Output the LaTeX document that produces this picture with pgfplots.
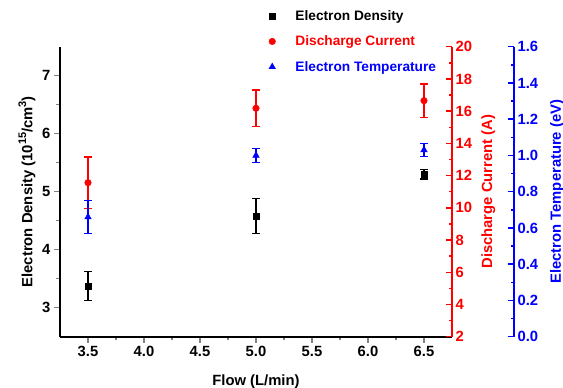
\documentclass[border=0pt]{standalone}
\usepackage{fontspec}
\setmainfont{Liberation Sans}
\usepackage{pgfplots}
\pgfplotsset{compat=1.18}
\newcommand{\sups}[1]{\raisebox{0.42em}{\fontsize{11}{11}\selectfont #1}}
\begin{document}
\begin{tikzpicture}
\pgfplotsset{
  myax/.style={
    scale only axis, width=392pt, height=290pt,
    xmin=3.25, xmax=6.75,
    /pgf/number format/assume math mode=true,
    tick label style={font=\bfseries\fontsize{14.8}{17}\selectfont},
    label style={font=\bfseries\fontsize{14.8}{17}\selectfont},
    axis line style={-, line width=1.6pt},
    major tick length=6pt, minor tick length=3.5pt,
    tick style={line width=1.5pt},
    minor tick num=1,
  },
  eb/.style={error bars/.cd, y dir=both, y explicit,
    error bar style={line width=1.3pt},
    error mark options={rotate=90, mark size=3.8pt, line width=1.3pt}},
}
\begin{axis}[myax, name=main, axis x line*=bottom, axis y line*=left, tick align=outside,
  ymin=2.5, ymax=7.5, ytick={3,4,5,6,7},
  xtick={3.5,4.0,4.5,5.0,5.5,6.0,6.5},
  x tick label style={/pgf/number format/.cd, fixed, fixed zerofill, precision=1},
  xlabel={Flow (L/min)}, x label style={yshift=-11pt},
  ylabel={Electron Density (10\sups{15}/cm\sups{3})},
  legend style={at={(0.52,1.14)}, anchor=north west, draw=none, fill=none,
    font=\bfseries\fontsize{13.7}{16}\selectfont, row sep=10pt},
  legend cell align=left,
  legend image code/.code={\path (0pt,0pt) (26pt,0pt); \draw[#1] plot coordinates {(5pt,0pt)};},
]
\addplot[forget plot, only marks, mark=square*, mark size=3pt, black, eb] coordinates {
  (3.5,3.37) +- (0,0.25)
  (5.0,4.58) +- (0,0.30)
  (6.5,5.30) +- (0,0.08)
};
\addlegendimage{only marks, mark=square*, mark size=3pt, black}
\addlegendentry{Electron Density}
\addlegendimage{only marks, mark=*, mark size=3.3pt, red}
\addlegendentry{\textcolor{red}{Discharge Current}}
\addlegendimage{only marks, mark=triangle*, mark size=3.8pt, blue}
\addlegendentry{\textcolor{blue}{Electron Temperature}}
\end{axis}
\begin{axis}[myax, axis y line*=right, axis x line=none, tick align=inside,
  ymin=2, ymax=20, ytick={2,4,6,8,10,12,14,16,18,20},
  y axis line style={red}, ytick style={red}, y tick label style={red}, y label style={red, yshift=-2.5pt},
  ylabel={Discharge Current (A)},
]
\addplot[only marks, mark=*, mark size=3.3pt, red, eb] coordinates {
  (3.5,11.56) +- (0,1.6)
  (5.0,16.18) +- (0,1.13)
  (6.5,16.65) +- (0,1.03)
};
\end{axis}
\begin{axis}[myax, width=454pt, xmax=7.3036, axis y line*=right, axis x line=none, tick align=inside,
  ymin=0, ymax=1.6, ytick={0,0.2,0.4,0.6,0.8,1.0,1.2,1.4,1.6},
  y tick label style={blue, /pgf/number format/.cd, fixed, fixed zerofill, precision=1},
  y axis line style={blue}, ytick style={blue}, y label style={blue, yshift=-8.5pt, inner sep=0pt},
  ylabel={Electron Temperature (eV)},
]
\addplot[only marks, mark=triangle*, mark size=3.8pt, blue, eb] coordinates {
  (3.5,0.66) +- (0,0.09)
  (5.0,1.00) +- (0,0.04)
  (6.5,1.03) +- (0,0.035)
};
\end{axis}
\pgfresetboundingbox
\path ([shift={(-60pt,-50.3pt)}]main.south west) rectangle ([shift={(111pt,46.7pt)}]main.north east);
\end{tikzpicture}
\end{document}
